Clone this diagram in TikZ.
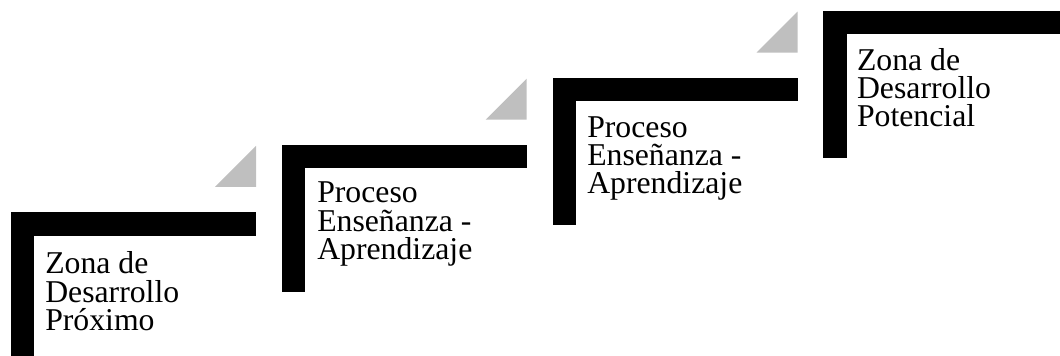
\documentclass[tikz,border=0pt]{standalone}
\usepackage{fontspec}
\setmainfont{Liberation Serif}
\begin{document}
\begin{tikzpicture}[x=0.75pt,y=-0.75pt,
    stepbar/.style={fill=black},
    stepmark/.style={fill=black!25},
    steptext/.style={anchor=base west,align=left,inner sep=0pt,
      font=\fontsize{23.8}{21.2}\selectfont}]
  \def\barlen{245};
  \def\barht{147};
  \def\barw{23.3};
  \useasboundingbox (0,0) rectangle (1060,356);
  \fill[stepbar] (11,212.3) rectangle ++(\barlen,\barw);
  \fill[stepbar] (11,212.3) rectangle (11+\barw,356);
  \fill[stepmark] (256,186.8) -- ++(0,-41) -- ++(-41,41) -- cycle;
  \node[steptext] (zproximo) at (45,330.3) {Zona de\\Desarrollo\\Próximo};
  \fill[stepbar] (281.7,145.2) rectangle ++(\barlen,\barw);
  \fill[stepbar] (281.7,145.2) rectangle ++(\barw,\barht);
  \fill[stepmark] (526.7,119.7) -- ++(0,-41) -- ++(-41,41) -- cycle;
  \node[steptext] (proceso1) at (317,259.5) {Proceso\\Enseñanza -\\Aprendizaje};
  \fill[stepbar] (552.5,78.1) rectangle ++(\barlen,\barw);
  \fill[stepbar] (552.5,78.1) rectangle ++(\barw,\barht);
  \fill[stepmark] (797.5,52.6) -- ++(0,-41) -- ++(-41,41) -- cycle;
  \node[steptext] (proceso2) at (587,193.8) {Proceso\\Enseñanza -\\Aprendizaje};
  \fill[stepbar] (823.3,11) rectangle (1060,11+\barw);
  \fill[stepbar] (823.3,11) rectangle ++(\barw,\barht);
  \node[steptext] (zpotencial) at (856.8,126.7) {Zona de\\Desarrollo\\Potencial};
\end{tikzpicture}
\end{document}
